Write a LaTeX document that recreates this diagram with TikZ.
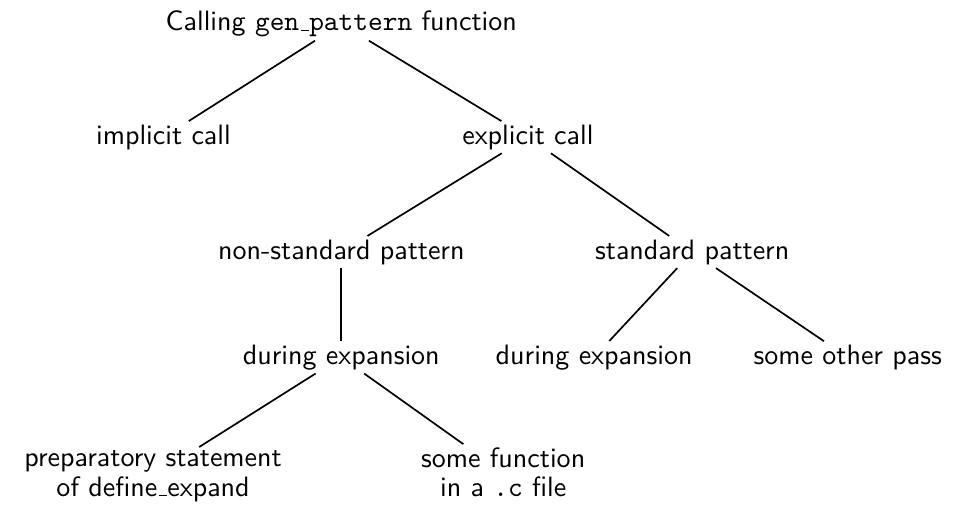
\documentclass[tikz,border=0pt]{standalone}
\usetikzlibrary{positioning}
\newcommand{\uscore}{\leavevmode\kern.06em\vbox{\hrule width.3em}}

\begin{document}
\begin{tikzpicture}[
    item/.style={inner sep=1pt, align=center},
    font=\sffamily, semithick,
]

% Nodes
\node[item] (root) at (0,0) {Calling \texttt{gen\uscore pattern} function};
\node[item] (implicit) at (-2.23,-1.42) {implicit call};
\node[item] (explicit) at (2.34,-1.42) {explicit call};
\node[item] (nonstd) at (0,-2.86) {non-standard pattern};
\node[item] (std) at (4.40,-2.86) {standard pattern};
\node[item] (expandL) at (0,-4.18) {during expansion};
\node[item] (expandR) at (3.17,-4.18) {during expansion};
\node[item] (otherpass) at (6.35,-4.18) {some other pass};
\node[item] (prep) at (-2.36,-5.67) {preparatory statement\\[-1.5pt]of define\uscore expand};
\node[item] (cfile) at (2.03,-5.625) {some function\\[-1.5pt]in a \texttt{.c} file};

% Edges
\draw (root) -- (implicit);
\draw (root) -- (explicit);
\draw (explicit) -- (nonstd);
\draw (explicit) -- (std);
\draw (nonstd) -- (expandL);
\draw (std) -- (expandR);
\draw (std) -- (otherpass);
\draw (expandL) -- (prep);
\draw (expandL) -- (cfile);

\useasboundingbox (-4.28,0.30) rectangle (7.67,-6.02);

\end{tikzpicture}
\end{document}
